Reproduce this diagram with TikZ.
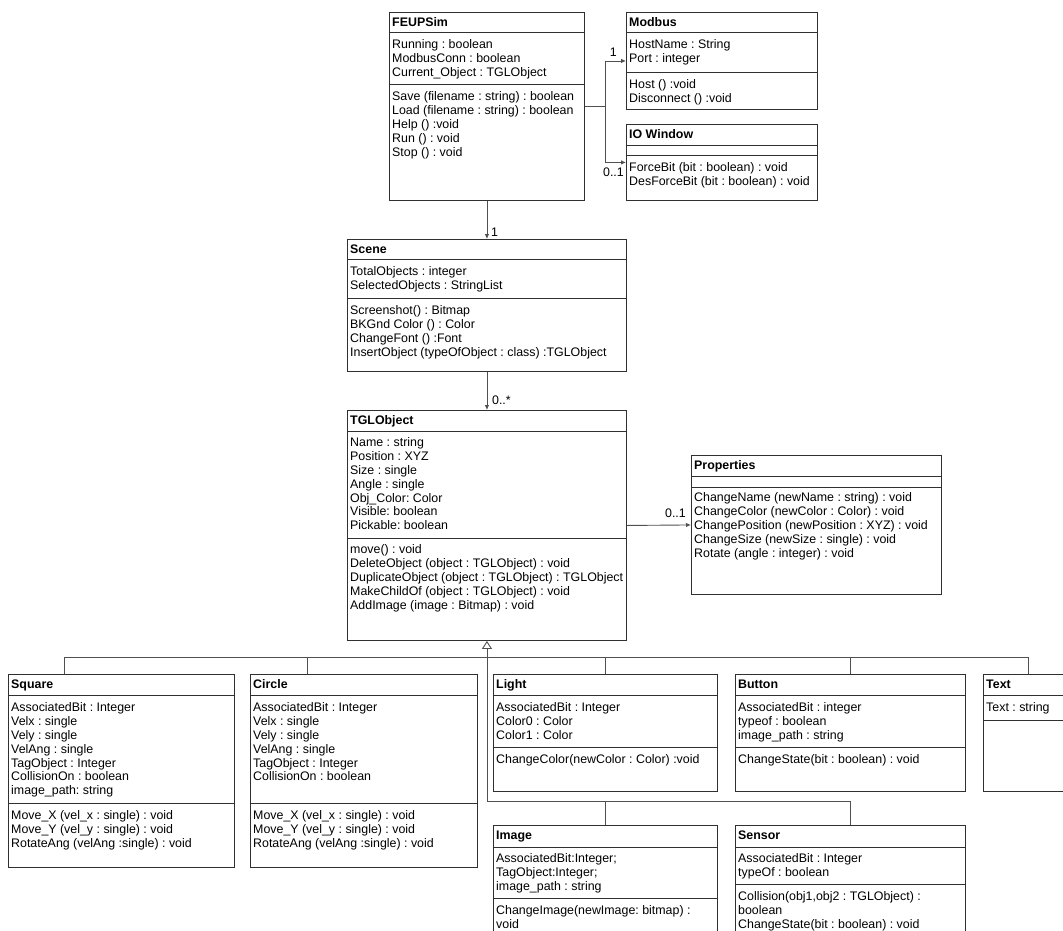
\documentclass[tikz,border=0pt]{standalone}
\usepackage{fontspec}
\setmainfont{Liberation Sans}
\usetikzlibrary{arrows.meta,calc,positioning}

\definecolor{boxline}{HTML}{303030}
\definecolor{linegray}{HTML}{505050}
\newcommand{\umlfont}{\fontsize{12.4}{13.8}\selectfont\frenchspacing}

\tikzset{
  classbox/.style={draw=boxline, line width=0.9pt, rectangle, inner sep=0pt, anchor=north west},
  classname/.style={anchor=base west, inner sep=0pt, font=\umlfont\bfseries},
  members/.style={anchor=north west, inner sep=0pt, align=left, font=\umlfont},
  divider/.style={draw=boxline, line width=0.9pt},
  link/.style={draw=linegray, line width=0.9pt},
  assoc/.style={link, -{Latex[length=5pt,width=4.5pt]}},
  mult/.style={inner sep=0pt, font=\umlfont}
}

\begin{document}
\begin{tikzpicture}[x=1pt, y=-1pt]
\useasboundingbox (0,0) rectangle (1063,930);
\clip (0,0) rectangle (1063,930);

% FEUPSim
\node[classbox, minimum width=195pt, minimum height=188pt] (feupsim) at (389,12) {};
\draw[divider] (389,32) -- (584,32) (389,84) -- (584,84);
\node[classname] (feupsim-name) at (392,26.5) {FEUPSim};
\node[members] (feupsim-attr) at (392,39) {\strut Running : boolean\\ModbusConn : boolean\\Current\_Object : TGLObject};
\node[members] (feupsim-ops) at (392,91) {\strut Save (filename : string) : boolean\\Load (filename : string) : boolean\\Help () :void\\Run () : void\\Stop () : void};

% Modbus
\node[classbox, minimum width=191pt, minimum height=97pt] (modbus) at (626,12) {};
\draw[divider] (626,32) -- (817,32) (626,72) -- (817,72);
\node[classname] (modbus-name) at (629,26.5) {Modbus};
\node[members] (modbus-attr) at (629,39) {\strut HostName : String\\Port : integer};
\node[members] (modbus-ops) at (629,79) {\strut Host () :void\\Disconnect () :void};

% IO Window
\node[classbox, minimum width=191pt, minimum height=76pt] (iowin) at (626,124) {};
\draw[divider] (626,145) -- (817,145) (626,155) -- (817,155);
\node[classname] (iowin-name) at (629,138.5) {IO Window};
\node[members] (iowin-ops) at (629,162) {\strut ForceBit (bit : boolean) : void\\DesForceBit (bit : boolean) : void};

% Scene
\node[classbox, minimum width=279pt, minimum height=132pt] (scene) at (347,239) {};
\draw[divider] (347,259) -- (626,259) (347,298) -- (626,298);
\node[classname] (scene-name) at (350,253.5) {Scene};
\node[members] (scene-attr) at (350,266) {\strut TotalObjects : integer\\SelectedObjects : StringList};
\node[members] (scene-ops) at (350,305) {\strut Screenshot() : Bitmap\\BKGnd Color () : Color\\ChangeFont () :Font\\InsertObject (typeOfObject : class) :TGLObject};

% TGLObject
\node[classbox, minimum width=279pt, minimum height=230pt] (tglobject) at (347,410) {};
\draw[divider] (347,431) -- (626,431) (347,538) -- (626,538);
\node[classname] (tglobject-name) at (350,424.5) {TGLObject};
\node[members] (tglobject-attr) at (350,437) {\strut Name : string\\Position : XYZ\\Size : single\\Angle : single\\Obj\_Color: Color\\Visible: boolean\\Pickable: boolean};
\node[members] (tglobject-ops) at (350,544) {\strut move() : void\\DeleteObject (object : TGLObject) : void\\DuplicateObject (object : TGLObject) : TGLObject\\MakeChildOf (object : TGLObject) : void\\AddImage (image : Bitmap) : void};

% Properties
\node[classbox, minimum width=250pt, minimum height=139pt] (props) at (691,455) {};
\draw[divider] (691,476) -- (941,476) (691,487) -- (941,487);
\node[classname] (props-name) at (694,469.5) {Properties};
\node[members] (props-ops) at (694,492) {\strut ChangeName (newName : string) : void\\ChangeColor (newColor : Color) : void\\ChangePosition (newPosition : XYZ) : void\\ChangeSize (newSize : single) : void\\Rotate (angle : integer) : void};

% Square
\node[classbox, minimum width=226pt, minimum height=193pt] (square) at (8,674) {};
\draw[divider] (8,695) -- (234,695) (8,803) -- (234,803);
\node[classname] (square-name) at (11,688.5) {Square};
\node[members] (square-attr) at (11,702) {\strut AssociatedBit : Integer\\Velx : single\\Vely : single\\VelAng : single\\TagObject : Integer\\CollisionOn : boolean\\image\_path: string};
\node[members] (square-ops) at (11,810) {\strut Move\_X (vel\_x : single) : void\\Move\_Y (vel\_y : single) : void\\RotateAng (velAng :single) : void};

% Circle
\node[classbox, minimum width=227pt, minimum height=193pt] (circle) at (250,674) {};
\draw[divider] (250,695) -- (477,695) (250,803) -- (477,803);
\node[classname] (circle-name) at (253,688.5) {Circle};
\node[members] (circle-attr) at (253,702) {\strut AssociatedBit : Integer\\Velx : single\\Vely : single\\VelAng : single\\TagObject : Integer\\CollisionOn : boolean};
\node[members] (circle-ops) at (253,810) {\strut Move\_X (vel\_x : single) : void\\Move\_Y (vel\_y : single) : void\\RotateAng (velAng :single) : void};

% Light
\node[classbox, minimum width=224pt, minimum height=117pt] (light) at (493,674) {};
\draw[divider] (493,695) -- (717,695) (493,747) -- (717,747);
\node[classname] (light-name) at (496,688.5) {Light};
\node[members] (light-attr) at (496,702) {\strut AssociatedBit : Integer\\Color0 : Color\\Color1 : Color};
\node[members] (light-ops) at (496,754) {\strut ChangeColor(newColor : Color) :void};

% Button
\node[classbox, minimum width=230pt, minimum height=117pt] (button) at (735,674) {};
\draw[divider] (735,695) -- (965,695) (735,747) -- (965,747);
\node[classname] (button-name) at (738,688.5) {Button};
\node[members] (button-attr) at (738,702) {\strut AssociatedBit : integer\\typeof : boolean\\image\_path : string};
\node[members] (button-ops) at (738,754) {\strut ChangeState(bit : boolean) : void};

% Text
\node[classbox, minimum width=90pt, minimum height=117pt] (text) at (983,674) {};
\draw[divider] (983,695) -- (1073,695) (983,720) -- (1073,720);
\node[classname] (text-name) at (986,688.5) {Text};
\node[members] (text-attr) at (986,702) {\strut Text : string};

% Image
\node[classbox, minimum width=224pt, minimum height=120pt] (image) at (493,825) {};
\draw[divider] (493,847) -- (717,847) (493,898) -- (717,898);
\node[classname] (image-name) at (496,839.5) {Image};
\node[members] (image-attr) at (496,853) {\strut AssociatedBit:Integer;\\TagObject:Integer;\\image\_path : string};
\node[members] (image-ops) at (496,905) {\strut ChangeImage(newImage: bitmap) :\\void};

% Sensor
\node[classbox, minimum width=230pt, minimum height=120pt] (sensor) at (735,825) {};
\draw[divider] (735,847) -- (965,847) (735,884) -- (965,884);
\node[classname] (sensor-name) at (738,839.5) {Sensor};
\node[members] (sensor-attr) at (738,853) {\strut AssociatedBit : Integer\\typeOf : boolean};
\node[members] (sensor-ops) at (738,891) {\strut Collision(obj1,obj2 : TGLObject) :\\boolean\\ChangeState(bit : boolean) : void};

% Associations
\coordinate (fork) at ($(feupsim.east)+(21,0)$);
\draw[link] (feupsim.east) -- (fork);
\draw[assoc] (fork) |- (modbus.west);
\draw[assoc] (fork) |- (iowin.west);
\draw[assoc] (feupsim.south) -- (scene.north);
\draw[assoc] (scene.south) -- (tglobject.north);
\draw[assoc] (tglobject.east) -- (props.west);
\node[mult, anchor=south east] (mult-modbus) at ([xshift=-9pt, yshift=4pt]modbus.west) {1};
\node[mult, anchor=north east] (mult-iowin) at ([xshift=-2pt, yshift=-5pt]iowin.west) {0..1};
\node[mult, anchor=south west] (mult-scene) at ([xshift=4pt, yshift=2pt]scene.north) {1};
\node[mult, anchor=south west] (mult-tgl) at ([xshift=5pt, yshift=5pt]tglobject.north) {0..*};
\node[mult, anchor=south east] (mult-props) at ([xshift=-5pt, yshift=7pt]props.west) {0..1};

% Generalization
\coordinate (bus1) at (tglobject.south |- 0,657);
\coordinate (bus2) at (tglobject.south |- 0,801);
\draw[link, -{Triangle[open, length=8pt, width=10pt]}] (bus2) -- (tglobject.south);
\draw[link] ($(square.north west)!0.25!(square.north east)$) |- (bus1);
\draw[link] ($(circle.north west)!0.25!(circle.north east)$) |- (bus1);
\draw[link] (light.north) |- (bus1);
\draw[link] (button.north) |- (bus1);
\draw[link] (text.north) |- (bus1);
\draw[link] (image.north) |- (bus2);
\draw[link] (sensor.north) |- (bus2);
\end{tikzpicture}
\end{document}
